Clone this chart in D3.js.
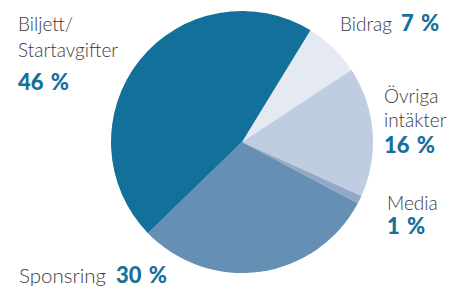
<!DOCTYPE html>
<html>
<head>
<meta charset="utf-8">
<script src="https://cdn.jsdelivr.net/npm/d3@7"></script>
<style>
  body { margin: 0; background: #fff; }
  .lbl { font-family: Lato, "Open Sans", sans-serif; font-weight: 300; font-size: 19px; fill: #3b3b3b; }
  .val { font-family: Lato, "Open Sans", sans-serif; font-weight: 900; font-size: 22px; fill: #17709a; word-spacing: 2px; }
  .big { font-size: 20.5px; }
  .big .val { font-size: 22px; }
</style>
</head>
<body>
<div id="main"></div>
<script>
// data, in drawing order clockwise from the Bidrag slice
var categories = ["Bidrag", "Övriga intäkter", "Media", "Sponsring", "Biljett/Startavgifter"];
var shares = [7, 16, 1, 30, 46];
var colors = ["#e4e9f2", "#bfcde0", "#91a9c6", "#658fb3", "#12709a"];

// label lines and where they sit
var labelLines = [["Bidrag"], ["Övriga", "intäkter"], ["Media"], ["Sponsring"], ["Biljett/", "Startavgifter"]];
var labelPos = [
    { x: 340, y: 31, inline: true, gap: 9 },
    { x: 384, y: 103, lh: 24, dy: 26 },
    { x: 387, y: 210, dy: 24 },
    { x: 19, y: 283, inline: true, gap: 10, big: true },
    { x: 18, y: 31, lh: 26, dy: 33 }
];

var ctx = { w: 452, h: 290, cx: 242, cy: 142, r: 131 };

var createViz = function() {
    var svg = d3.select("#main").append("svg")
        .attr("width", ctx.w)
        .attr("height", ctx.h);

    var pie = d3.pie().sort(null).value(d => d)
        .startAngle(31.5 * Math.PI / 180)
        .endAngle(31.5 * Math.PI / 180 + 2 * Math.PI);
    var arc = d3.arc().innerRadius(0).outerRadius(ctx.r);

    var g = svg.append("g").attr("transform", `translate(${ctx.cx},${ctx.cy})`);
    g.selectAll("path")
        .data(pie(shares))
        .enter()
        .append("path")
        .attr("d", arc)
        .attr("fill", (d, i) => colors[i]);

    // labels
    labelLines.forEach((lines, i) => {
        var p = labelPos[i];
        var lh = p.lh || 24;
        var t = svg.append("text").attr("class", "lbl").classed("big", !!p.big)
            .attr("x", p.x).attr("y", p.y);
        lines.forEach((line, j) => {
            t.append("tspan").attr("x", p.x).attr("dy", j == 0 ? 0 : lh).text(line);
        });
        if (p.inline) {
            t.append("tspan").attr("class", "val").attr("dx", p.gap).text(shares[i] + " %");
        } else {
            svg.append("text").attr("class", "val")
                .attr("x", p.x)
                .attr("y", p.y + lh * (lines.length - 1) + p.dy)
                .text(shares[i] + " %");
        }
    });
};

createViz();
</script>
</body>
</html>
